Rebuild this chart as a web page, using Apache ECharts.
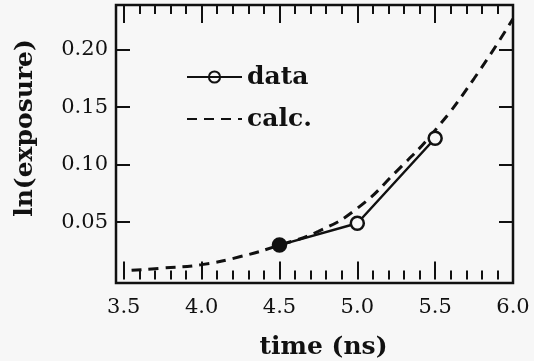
<!DOCTYPE html>
<html>
<head>
<meta charset="utf-8">
<script src="https://cdn.jsdelivr.net/npm/echarts@6/dist/echarts.min.js"></script>
<style>
  html, body { margin: 0; padding: 0; background: #f7f7f7; }
  #chart { width: 534px; height: 361px; }
</style>
</head>
<body>
<div id="chart"></div>
<script>
// measured points (time in ns, ln(exposure))
const dataTime = [4.5, 5.0, 5.5];
const dataValue = [0.030, 0.049, 0.123];

// calculated curve
const calcTime = [3.55, 3.75, 4.0, 4.25, 4.5, 4.75, 5.0, 5.25, 5.5, 5.75, 6.0];
const calcValue = [0.008, 0.010, 0.013, 0.020, 0.030, 0.042, 0.062, 0.094, 0.130, 0.175, 0.227];

// ticks
const xMajorTicks = [3.5, 4.0, 4.5, 5.0, 5.5, 6.0];
const xMinorTicks = [3.6, 3.7, 3.8, 3.9, 4.1, 4.2, 4.3, 4.4, 4.6, 4.7, 4.8, 4.9,
  5.1, 5.2, 5.3, 5.4, 5.6, 5.7, 5.8, 5.9];
const yTicks = [0.05, 0.10, 0.15, 0.20];

const ink = "#111";
const bg = "#f7f7f7";
const font = "DejaVu Serif";

const chart = echarts.init(document.getElementById("chart"));

const xBase = {
  type: "value",
  min: 3.45,
  max: 6.0,
  axisLine: { show: false },
  splitLine: { show: false },
  axisLabel: { show: false },
};

const tick = (values, len) => ({
  show: true,
  inside: true,
  length: len,
  customValues: values,
  lineStyle: { color: ink, width: 2 },
});

const titleStyle = { fontFamily: font, fontWeight: "bold", fontSize: 25, color: ink };

const option = {
  backgroundColor: bg,
  animation: false,
  grid: {
    left: 116,
    right: 21,
    top: 5,
    bottom: 78,
    outerBoundsMode: "none",
    show: true,
    borderColor: ink,
    borderWidth: 2.5,
    backgroundColor: "transparent",
  },
  legend: {
    orient: "vertical",
    left: 181,
    top: 58,
    itemWidth: 55,
    itemHeight: 14,
    itemGap: 14,
    textStyle: { ...titleStyle, lineHeight: 28 },
    data: [
      { name: "data", itemStyle: { color: "rgba(0,0,0,0)" } },
      { name: "calc.", itemStyle: { opacity: 0 } },
    ],
  },
  xAxis: [
    { ...xBase, position: "bottom", axisTick: tick(xMinorTicks, 9) },
    {
      ...xBase,
      position: "bottom",
      axisTick: tick(xMajorTicks, 18),
      axisLabel: {
        show: true,
        customValues: xMajorTicks,
        formatter: v => v.toFixed(1),
        fontFamily: font,
        fontSize: 21,
        color: ink,
        margin: 14,
      },
      name: "time (ns)",
      nameLocation: "middle",
      nameGap: 52,
      nameTextStyle: { ...titleStyle, padding: [0, 0, 0, 18] },
    },
    { ...xBase, position: "top", axisTick: tick(xMinorTicks, 9) },
    { ...xBase, position: "top", axisTick: tick(xMajorTicks, 18) },
  ],
  yAxis: [
    {
      type: "value",
      min: -0.003,
      max: 0.239,
      position: "left",
      axisLine: { show: false },
      splitLine: { show: false },
      axisTick: tick(yTicks, 14),
      axisLabel: {
        customValues: yTicks,
        formatter: v => v.toFixed(2),
        fontFamily: font,
        fontSize: 21,
        color: ink,
        margin: 8,
      },
      name: "ln(exposure)",
      nameLocation: "middle",
      nameGap: 78,
      nameRotate: 90,
      nameTextStyle: { ...titleStyle, padding: [0, 0, 0, 32] },
    },
    {
      type: "value",
      min: -0.003,
      max: 0.239,
      position: "right",
      axisLine: { show: false },
      splitLine: { show: false },
      axisTick: tick(yTicks, 14),
      axisLabel: { show: false },
    },
  ],
  series: [
    {
      name: "data",
      type: "line",
      xAxisIndex: 0,
      yAxisIndex: 0,
      data: dataTime.map((t, i) => i === 0
        ? { value: [t, dataValue[i]], itemStyle: { color: ink } }
        : [t, dataValue[i]]),
      symbol: "circle",
      symbolSize: 13,
      itemStyle: { color: bg, borderColor: ink, borderWidth: 2.5 },
      lineStyle: { color: ink, width: 2.5 },
      z: 3,
    },
    {
      name: "calc.",
      type: "line",
      xAxisIndex: 0,
      yAxisIndex: 0,
      data: calcTime.map((t, i) => [t, calcValue[i]]),
      smooth: true,
      showSymbol: false,
      symbol: "none",
      itemStyle: { color: ink },
      lineStyle: { color: ink, width: 3, type: [10, 7] },
      z: 2,
    },
  ],
};

chart.setOption(option);
</script>
</body>
</html>
